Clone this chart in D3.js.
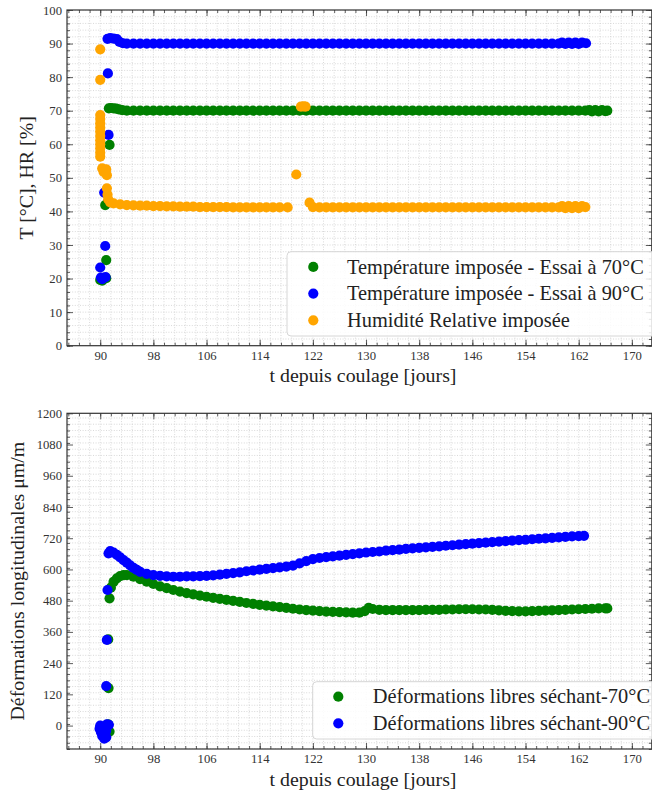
<!DOCTYPE html>
<html><head><meta charset="utf-8">
<script src="https://cdn.jsdelivr.net/npm/d3@7"></script>
<style>body{margin:0;background:#fff}</style>
</head><body>
<svg id="c" width="652" height="793"></svg>
<script>
// ---------- data ----------
const xTicks = [90, 98, 106, 114, 122, 130, 138, 146, 154, 162, 170];
const topYTicks = [0, 10, 20, 30, 40, 50, 60, 70, 80, 90, 100];
const botYTicks = [0, 120, 240, 360, 480, 600, 720, 840, 960, 1080, 1200];

const topLabels = ["Température imposée - Essai à 70°C", "Température imposée - Essai à 90°C", "Humidité Relative imposée"];
const botLabels = ["Déformations libres séchant-70°C", "Déformations libres séchant-90°C"];

// Température imposée - Essai à 70°C  [jour, °C]
const temp70 = [[90.0,19.6],[90.3,19.4],[90.9,20.1],[90.9,25.5],[90.75,41.9],[91.4,59.8],
 [91.3,70.7],[91.6,70.8],[92.0,70.7],[92.4,70.6],[92.8,70.4],[93.3,70.2],
 [94,70.0],[95,70.0],[96,70.0],[97,70.0],[98,70.0],[99,70.0],[100,70.0],[101,70.0],[102,70.0],[103,70.0],
 [104,70.0],[105,70.0],[106,70.0],[107,70.0],[108,70.0],[109,70.0],[110,70.0],[111,70.0],[112,70.0],[113,70.0],
 [114,70.0],[115,70.0],[116,70.0],[117,70.0],[118,70.0],[119,70.0],[120,70.0],[121,70.0],[122,70.0],[123,70.0],
 [124,70.0],[125,70.0],[126,70.0],[127,70.0],[128,70.0],[129,70.0],[130,70.0],[131,70.0],[132,70.0],[133,70.0],
 [134,70.0],[135,70.0],[136,70.0],[137,70.0],[138,70.0],[139,70.0],[140,70.0],[141,70.0],[142,70.0],[143,70.0],
 [144,70.0],[145,70.0],[146,70.0],[147,70.0],[148,70.0],[149,70.0],[150,70.0],[151,70.0],[152,70.0],[153,70.0],
 [154,70.0],[155,70.0],[156,70.0],[157,70.0],[158,70.0],[159,70.0],[160,70.0],[161,70.0],[162,70.0],[163,70.0],
 [163.6,70.2],[164.0,69.8],[164.5,70.2],[165.0,69.8],[165.5,70.2],[166.0,69.9],[166.3,70.0]];

// Température imposée - Essai à 90°C  [jour, °C]
const temp90 = [[90.0,23.3],[90.1,20.3],[90.3,19.8],[90.8,20.4],[90.75,29.7],[90.6,45.6],[91.25,62.8],[91.15,81.1],
 [91.1,91.4],[91.5,91.6],[92.0,91.5],[92.5,91.3],[92.9,90.5],[93.4,90.1],
 [94,90.0],[95,90.0],[96,90.0],[97,90.0],[98,90.0],[99,90.0],[100,90.0],[101,90.0],[102,90.0],[103,90.0],
 [104,90.0],[105,90.0],[106,90.0],[107,90.0],[108,90.0],[109,90.0],[110,90.0],[111,90.0],[112,90.0],[113,90.0],
 [114,90.0],[115,90.0],[116,90.0],[117,90.0],[118,90.0],[119,90.0],[120,90.0],[121,90.0],[122,90.0],[123,90.0],
 [124,90.0],[125,90.0],[126,90.0],[127,90.0],[128,90.0],[129,90.0],[130,90.0],[131,90.0],[132,90.0],[133,90.0],
 [134,90.0],[135,90.0],[136,90.0],[137,90.0],[138,90.0],[139,90.0],[140,90.0],[141,90.0],[142,90.0],[143,90.0],
 [144,90.0],[145,90.0],[146,90.0],[147,90.0],[148,90.0],[149,90.0],[150,90.0],[151,90.0],[152,90.0],[153,90.0],
 [154,90.0],[155,90.0],[156,90.0],[157,90.0],[158,90.0],[159,90.0],
 [159.5,90.3],[160.0,89.9],[160.5,90.3],[161.0,89.9],[161.5,90.3],[162.0,89.9],[162.5,90.3],[163.1,90.1]];

// Humidité Relative imposée  [jour, %]
const hr = [[90.0,88.3],[90.0,79.2],
 [90.0,68.7],[90.0,67.5],[90.0,66.2],[90.0,65.0],[90.0,63.8],[90.0,62.5],[90.0,61.2],[90.0,60.0],[90.0,58.8],[90.0,57.5],[90.0,56.3],
 [90.3,52.8],[90.5,51.8],[90.9,52.5],[91.0,50.8],[91.0,46.9],[91.1,45.0],[91.2,43.6],[91.5,42.7],
 [92,42.4],[93,42.1],[94,41.9],[95,41.8],[96,41.7],[97,41.7],[98,41.6],[99,41.6],[100,41.5],[101,41.5],
 [102,41.4],[103,41.4],[104,41.4],[105,41.3],[106,41.3],[107,41.3],[108,41.3],[109,41.3],[110,41.2],[111,41.2],
 [112,41.2],[113,41.2],[114,41.2],[115,41.2],[116,41.2],[117,41.2],[118.2,41.2],
 [119.5,51.0],[120.2,71.2],[120.6,71.3],[120.9,71.2],[121.5,42.6],
 [122,41.3],[123,41.2],[124,41.2],[125,41.2],[126,41.2],[127,41.2],[128,41.2],[129,41.2],[130,41.2],[131,41.2],
 [132,41.2],[133,41.2],[134,41.2],[135,41.2],[136,41.2],[137,41.2],[138,41.2],[139,41.2],[140,41.2],[141,41.2],
 [142,41.2],[143,41.2],[144,41.2],[145,41.2],[146,41.2],[147,41.2],[148,41.2],[149,41.2],[150,41.2],[151,41.2],
 [152,41.2],[153,41.2],[154,41.2],[155,41.2],[156,41.2],[157,41.2],[158,41.2],[159,41.2],
 [159.5,41.6],[160.0,41.0],[160.5,41.6],[161.0,41.0],[161.5,41.6],[162.0,41.0],[162.5,41.6],[163.0,41.3]];

// Déformations libres séchant-70°C  [jour, µm/m]
const def70 = [[91.2,5],[91.4,-23],[91.25,144],[91.2,331],[91.4,489],
 [91.6,530],[92.0,552],[92.5,566],[93.0,574],[93.5,578],[94,578],[95,572],[96,563],[97,553],[98,544],[99,535],
 [100,528],[101,521],[102,515],[103,509],[104,504],[105,499],[106,495],[107,491],[108,487],[109,483],[110,479],
 [111,475],[112,471],[113,468],[114,464],[115,461],[116,458],[117,455],[118,452],[119,449],[120,446],[121,444],
 [122,442],[123,440],[124,438],[125,437],[126,436],[127,435],[128,434],[129,434],[129.8,440],[130.4,452],
 [131,448],[132,445],[133,444],[134,444],[135,444],[136,444],[137,444],[138,444],[139,445],[140,445],[141,445],
 [142,446],[143,446],[144,447],[145,447],[146,447],[147,446],[148,446],[149,445],[150,443],[151,441],[152,440],
 [153,439],[154,439],[155,440],[156,441],[157,442],[158,443],[159,444],[160,445],[161,446],[162,447],[163,448],
 [164,449],[165,450],[166,450],[166.3,450]];

// Déformations libres séchant-90°C  [jour, µm/m]
const def90 = [[90.0,0],[89.9,-12],[90.1,-25],[90.3,-40],[90.6,-50],[90.9,-45],[90.9,-20],[91.0,5],[91.3,3],
 [90.9,152],[91.0,329],[91.1,521],[91.25,662],[91.5,670],
 [92.0,665],[92.5,656],[93.0,646],[93.5,636],[94,626],[94.5,616],[95,606],[95.5,598],[96,591],[97,583],[98,578],
 [99,575],[100,573],[101,572],[102,572],[103,573],[104,573],[105,574],[106,575],[107,577],[108,580],[109,583],
 [110,586],[111,589],[112,593],[113,596],[114,599],[115,602],[116,605],[117,608],[118,611],[119,615],[120,623],
 [121,632],[122,640],[123,644],[124,647],[125,650],[126,653],[127,656],[128,659],[129,662],[130,665],[131,667],
 [132,669],[133,672],[134,674],[135,676],[136,679],[137,681],[138,683],[139,685],[140,687],[141,689],[142,691],
 [143,693],[144,695],[145,697],[146,699],[147,701],[148,703],[149,705],[150,707],[151,709],[152,711],[153,713],
 [154,714],[155,716],[156,718],[157,719],[158,721],[159,723],[160,725],[161,727],[162,728],[162.8,729]];

// ---------- drawing ----------
const W = 652, H = 793;
const FONT = "'Liberation Serif', 'DejaVu Serif', serif";
const svg = d3.select('#c');
svg.append('rect').attr('width', W).attr('height', H).attr('fill', '#fff');

const L = 67, R = 651.8;
const x = d3.scaleLinear().domain([85, 173]).range([L, R]);
const xMinor = d3.range(85.2, 173, 1.6).map(v => +v.toFixed(2));

function fitSize(textSel, target) {
  const w = textSel.node().getComputedTextLength();
  const fs = parseFloat(textSel.attr('font-size'));
  return fs * target / w;
}

function panel(cfg) {
  const y = d3.scaleLinear().domain(cfg.yDomain).range([cfg.bottom, cfg.top]);
  const yMinor = d3.range(cfg.yDomain[0], cfg.yDomain[1] + 0.001, cfg.yMinorStep)
    .filter(v => v >= cfg.yDomain[0]);
  const clipId = 'clip' + cfg.id;
  svg.append('clipPath').attr('id', clipId).append('rect')
    .attr('x', L).attr('y', cfg.top).attr('width', R - L).attr('height', cfg.bottom - cfg.top);
  const g = svg.append('g');
  const grid = g.append('g').attr('clip-path', `url(#${clipId})`)
    .attr('stroke', '#cfcfcf').attr('stroke-width', 0.8).attr('stroke-dasharray', '1,1.6');
  grid.selectAll('.gx').data(xMinor).join('line')
    .attr('x1', d => x(d)).attr('x2', d => x(d)).attr('y1', cfg.top).attr('y2', cfg.bottom);
  grid.selectAll('.gy').data(yMinor).join('line')
    .attr('x1', L).attr('x2', R).attr('y1', d => y(d)).attr('y2', d => y(d));

  // data
  cfg.series.forEach(s => {
    g.append('g').attr('fill', s.color).selectAll('circle').data(s.data).join('circle')
      .attr('cx', d => x(d[0])).attr('cy', d => y(d[1])).attr('r', 5.1);
  });

  // axes
  const styleAxis = (sel) => {
    sel.select('.domain').remove();
    sel.selectAll('line').attr('stroke', '#333').attr('stroke-width', 0.8);
    sel.selectAll('text').attr('font-family', FONT).attr('font-size', 12.7).attr('fill', '#333');
  };
  g.append('g').attr('transform', `translate(0,${cfg.bottom})`)
    .call(d3.axisBottom(x).tickValues(xTicks).tickSize(-6).tickPadding(5).tickFormat(d3.format('d'))).call(styleAxis);
  g.append('g').attr('transform', `translate(0,${cfg.bottom})`)
    .call(d3.axisBottom(x).tickValues(xMinor).tickSize(-3).tickFormat('')).call(styleAxis);
  g.append('g').attr('transform', `translate(0,${cfg.top})`)
    .call(d3.axisTop(x).tickValues(xTicks).tickSize(-6).tickFormat('')).call(styleAxis);
  g.append('g').attr('transform', `translate(0,${cfg.top})`)
    .call(d3.axisTop(x).tickValues(xMinor).tickSize(-3).tickFormat('')).call(styleAxis);
  g.append('g').attr('transform', `translate(${L},0)`)
    .call(d3.axisLeft(y).tickValues(cfg.yTicks).tickSize(-6).tickPadding(5).tickFormat(d3.format('d'))).call(styleAxis);
  g.append('g').attr('transform', `translate(${L},0)`)
    .call(d3.axisLeft(y).tickValues(yMinor).tickSize(-3).tickFormat('')).call(styleAxis);
  g.append('g').attr('transform', `translate(${R},0)`)
    .call(d3.axisRight(y).tickValues(cfg.yTicks).tickSize(-6).tickFormat('')).call(styleAxis);
  g.append('g').attr('transform', `translate(${R},0)`)
    .call(d3.axisRight(y).tickValues(yMinor).tickSize(-3).tickFormat('')).call(styleAxis);
  g.append('rect').attr('x', L).attr('y', cfg.top).attr('width', R - L).attr('height', cfg.bottom - cfg.top)
    .attr('fill', 'none').attr('stroke', '#333').attr('stroke-width', 1.2);

  // axis labels
  g.append('text').attr('class', 'xlab').attr('x', 363).attr('y', cfg.xLabelY)
    .attr('text-anchor', 'middle').attr('font-family', FONT).attr('font-size', 17).attr('fill', '#222')
    .text('t depuis coulage [jours]');
  const yc = (cfg.top + cfg.bottom) / 2;
  g.append('text').attr('class', 'ylab')
    .attr('transform', `translate(${cfg.yLabelX},${yc}) rotate(-90)`)
    .attr('text-anchor', 'middle').attr('font-family', FONT).attr('font-size', 17).attr('fill', '#222')
    .text(cfg.yLabel);

  // legend
  const lg = cfg.legend;
  g.append('rect').attr('x', lg.x).attr('y', lg.y).attr('width', lg.w).attr('height', lg.h)
    .attr('rx', 4).attr('fill', '#fff').attr('fill-opacity', 0.85).attr('stroke', '#d6d6d6').attr('stroke-width', 1);
  lg.labels.forEach((lab, i) => {
    const cy = lg.y0 + i * lg.dy;
    g.append('circle').attr('cx', lg.mx).attr('cy', cy).attr('r', 5.1).attr('fill', cfg.series[i].color);
    g.append('text').attr('class', 'legtxt').attr('x', lg.tx).attr('y', cy).attr('dy', '0.33em')
      .attr('font-family', FONT).attr('font-size', 16).attr('fill', '#222').text(lab);
  });
  return g;
}

const gTop = panel({
  id: 't', top: 10, bottom: 345.7, yDomain: [0, 100], yTicks: topYTicks, yMinorStep: 2,
  series: [{data: temp70, color: 'green'}, {data: temp90, color: 'blue'}, {data: hr, color: 'orange'}],
  yLabel: 'T [°C], HR [%]', yLabelX: 33, xLabelY: 382,
  legend: {x: 287, y: 251.7, w: 380, h: 84.3, mx: 313.3, tx: 347, y0: 266.9, dy: 26.7, labels: topLabels}
});
const gBot = panel({
  id: 'b', top: 413.3, bottom: 749, yDomain: [-90, 1200], yTicks: botYTicks, yMinorStep: 24,
  series: [{data: def70, color: 'green'}, {data: def90, color: 'blue'}],
  yLabel: 'Déformations longitudinales μm/m', yLabelX: 24, xLabelY: 786,
  legend: {x: 312.7, y: 681.7, w: 360, h: 57.3, mx: 338.3, tx: 372.7, y0: 696.7, dy: 26.6, labels: botLabels}
});

// size text to match reference proportions
const legFs = fitSize(gTop.select('.legtxt'), 297);
svg.selectAll('.legtxt').attr('font-size', legFs);
const labFs = fitSize(gTop.select('.xlab'), 187);
svg.selectAll('.xlab').attr('font-size', labFs);
svg.selectAll('.ylab').attr('font-size', labFs);
</script>
</body></html>
